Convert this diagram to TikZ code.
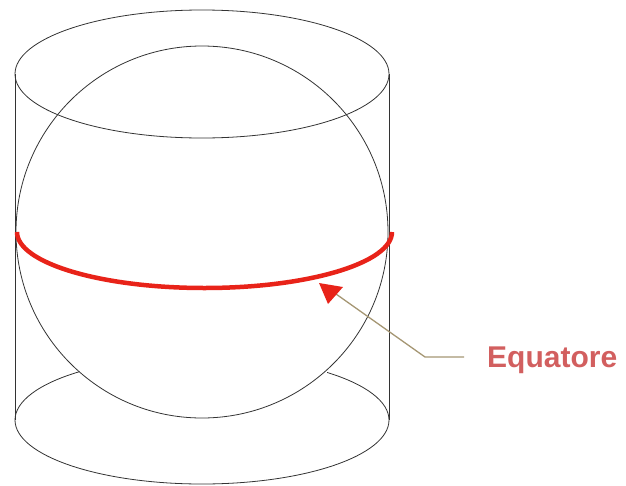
\documentclass[tikz,border=0pt]{standalone}
\usepackage{fontspec}
\setmainfont{Liberation Sans}
\usetikzlibrary{arrows.meta}
\definecolor{eqred}{RGB}{232,35,25}
\definecolor{olive}{RGB}{165,150,115}
\definecolor{labred}{RGB}{210,95,95}
\begin{document}
\begin{tikzpicture}[x=1pt,y=-1pt,
  outline/.style={draw=black!80,line width=0.8pt},
  equator/.style={draw=eqred,line width=4.5pt},
  pointer/.style={draw=olive,line width=1.3pt},
  lab/.style={font=\fontsize{30}{34}\selectfont\bfseries,text=labred,anchor=base west,inner sep=0pt}]
\useasboundingbox (0,0) rectangle (626,485);
% cylinder
\draw[outline] (202,74) ellipse [x radius=187,y radius=64];
\draw[outline] (15,74) -- (15,420);
\draw[outline] (389,74) -- (389,420);
% bottom ellipse: front half plus visible back parts
\draw[outline] (15,420) arc[start angle=180,end angle=0,x radius=187,y radius=64];
\draw[outline] (15,420) arc[start angle=180,end angle=229,x radius=187,y radius=64];
\draw[outline] (389,420) arc[start angle=0,end angle=-48,x radius=187,y radius=64];
% sphere
\draw[outline] (202,232) circle [radius=186];
% equator
\draw[equator] (17,232) arc[start angle=180,end angle=0,x radius=187.5,y radius=56];
% pointer
\node[lab] (eq) at (487,367) {Equatore};
\coordinate (tip) at (319,283);
\coordinate (knee) at (425,357);
\coordinate (end) at (464,357);
\draw[pointer] (end) -- (knee) -- (336,294);
\fill[eqred] (tip) -- (343,287) -- (328,304) -- cycle;
\end{tikzpicture}
\end{document}
